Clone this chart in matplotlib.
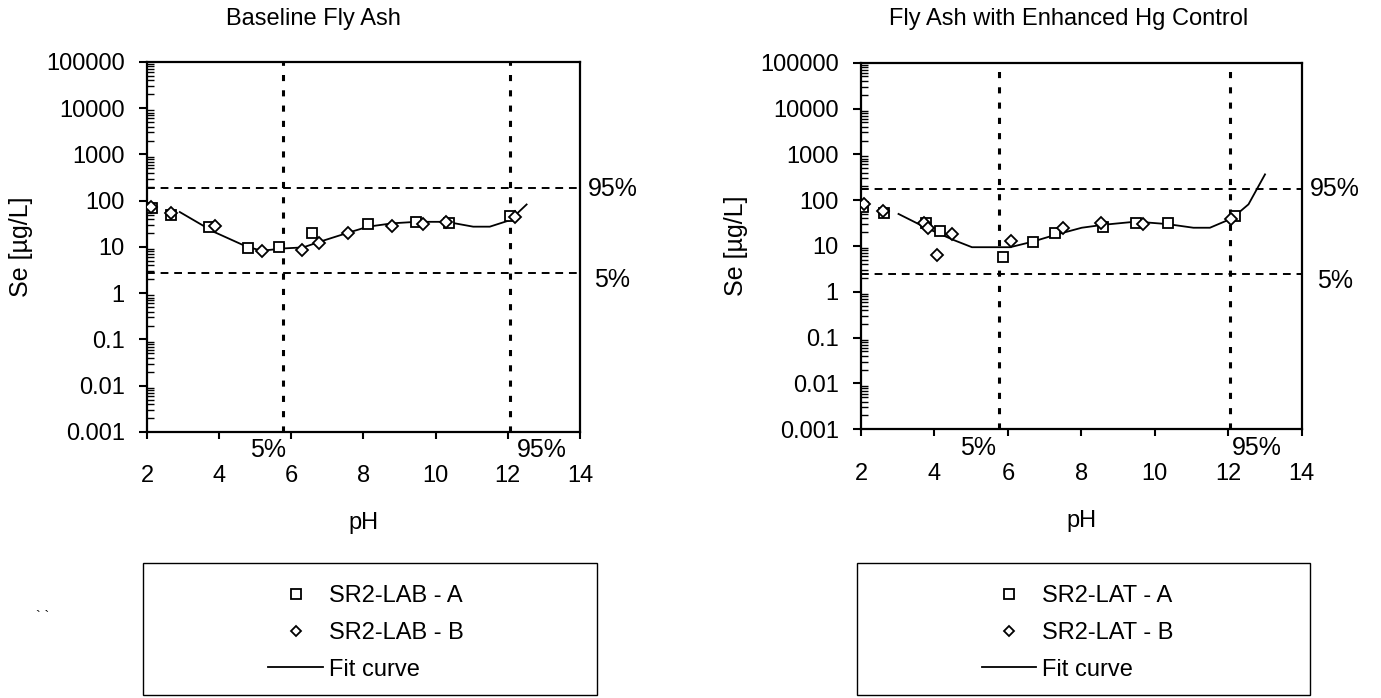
import numpy as np
import matplotlib
matplotlib.use("Agg")
import matplotlib.pyplot as plt
from matplotlib.patches import Rectangle
from matplotlib.lines import Line2D
from matplotlib.ticker import LogLocator, FixedLocator, FixedFormatter

plt.rcParams['font.family'] = ['Liberation Sans', 'DejaVu Sans']

# --- Baseline Fly Ash (SR2-LAB) ---
lab_a_ph = [2.13, 2.66, 3.73, 4.79, 5.66, 6.58, 8.13, 9.45, 10.37, 12.06]
lab_a_se = [69, 49, 26.6, 9.3, 10.2, 20, 31, 34, 32.6, 47]
lab_b_ph = [2.10, 2.68, 3.88, 5.18, 6.31, 6.77, 7.58, 8.80, 9.66, 10.30, 12.19]
lab_b_se = [74, 54, 28.5, 8.0, 8.6, 12, 20.4, 29, 31.7, 35, 44]
lab_fit_ph = [2.91, 3.84, 4.76, 5.18, 5.78, 6.33, 6.79, 7.58, 8.13, 8.80, 9.47, 10.3, 11.04, 11.5, 12.06, 12.52]
lab_fit_se = [57, 21.5, 10.2, 8.3, 9.3, 9.8, 13, 20.4, 27.5, 32.5, 35, 35, 27.5, 27.5, 38, 83]
lab_pct_ph = [5.78, 12.06]      # 5% / 95% pH
lab_pct_se = [2.7, 186]         # 5% / 95% Se

# --- Fly Ash with Enhanced Hg Control (SR2-LAT) ---
lat_a_ph = [2.06, 2.63, 3.77, 4.15, 5.86, 6.67, 7.29, 8.60, 9.49, 10.35, 12.19]
lat_a_se = [72, 53, 31.5, 21, 5.8, 12.4, 19, 25.5, 32, 32, 46]
lat_b_ph = [2.09, 2.61, 3.72, 3.81, 4.08, 4.49, 6.08, 7.49, 8.53, 9.67, 12.08]
lat_b_se = [81, 59, 31.5, 24.5, 6.2, 18, 12.9, 24.5, 31.5, 30, 39]
lat_fit_ph = [3.02, 3.79, 4.52, 5.02, 6.06, 6.67, 7.29, 8.01, 8.60, 9.49, 10.35, 11.05, 11.5, 12.10, 12.55, 13.0]
lat_fit_se = [50, 24.5, 13.5, 9.4, 9.4, 12.4, 17.5, 25, 29, 34, 30, 25, 25, 40, 81, 365]
lat_pct_ph = [5.76, 12.05]
lat_pct_se = [2.5, 175]

xticks = [2, 4, 6, 8, 10, 12, 14]
yticks = [0.001, 0.01, 0.1, 1, 10, 100, 1000, 10000, 100000]
ytick_labels = ['0.001', '0.01', '0.1', '1', '10', '100', '1000', '10000', '100000']

fig = plt.figure(figsize=(13.81, 6.98), dpi=100)

def draw_panel(ax, a_ph, a_se, b_ph, b_se, fit_ph, fit_se, pct_ph, pct_se,
               xlab_pos, title, title_x, leg_labels, leg_box, leg_center):
    ax.set_yscale('log')
    ax.set_xlim(2, 14)
    ax.set_ylim(0.001, 100000)

    # percentile reference lines
    for p in pct_ph:
        ax.axvline(p, color='black', lw=2.2, ls=(0, (2, 3)), zorder=1)
    for s in pct_se:
        ax.axhline(s, color='black', lw=1.4, ls=(0, (4, 3)), zorder=1)

    ax.plot(fit_ph, fit_se, color='black', lw=1.3, zorder=2)
    ax.plot(a_ph, a_se, ls='none', marker='s', ms=7.5, mfc='white', mec='black', mew=1.3,
            zorder=3)
    ax.plot(b_ph, b_se, ls='none', marker='D', ms=6, mfc='white', mec='black', mew=1.3,
            zorder=4)

    ax.xaxis.set_major_locator(FixedLocator(xticks))
    ax.yaxis.set_major_locator(FixedLocator(yticks))
    ax.yaxis.set_major_formatter(FixedFormatter(ytick_labels))
    ax.yaxis.set_minor_locator(LogLocator(base=10, subs=np.arange(2, 10), numticks=20))
    ax.tick_params(axis='x', direction='out', length=5, width=1.5, labelsize=17, pad=19)
    ax.tick_params(axis='y', which='major', direction='out', length=6, width=1.5,
                   labelsize=17, pad=10)
    ax.tick_params(axis='y', which='minor', direction='in', length=5, width=1.0)
    for sp in ax.spines.values():
        sp.set_linewidth(1.6)

    ax.set_xlabel('pH', fontsize=17, labelpad=18)
    ax.set_ylabel('Se [µg/L]', fontsize=18, labelpad=9)

    # percentile labels
    bt = ax.get_xaxis_transform()
    ax.text(xlab_pos[0], -0.05, '5%', transform=bt, ha='center', va='center', fontsize=18)
    ax.text(xlab_pos[1], -0.05, '95%', transform=bt, ha='center', va='center', fontsize=18)
    rt = ax.get_yaxis_transform()
    ax.text(1.075, pct_se[1] * 0.98, '95%', transform=rt, ha='center', va='center', fontsize=18)
    ax.text(1.075, pct_se[0] * 0.7, '5%', transform=rt, ha='center', va='center', fontsize=18)

    fig.text(title_x, 0.973, title, ha='center', va='center', fontsize=17)

    fig.add_artist(Rectangle((leg_box[0], leg_box[1]), leg_box[2], leg_box[3],
                             transform=fig.transFigure, fill=False, ec='black', lw=1.0))
    handles = [Line2D([], [], ls='none', marker='s', ms=6.5, mfc='white', mec='black', mew=1.3),
               Line2D([], [], ls='none', marker='D', ms=5.5, mfc='white', mec='black', mew=1.3),
               Line2D([], [], color='black', lw=1.3)]
    fig.legend(handles, leg_labels, loc='center', bbox_to_anchor=leg_center,
               bbox_transform=fig.transFigure, frameon=False, fontsize=17,
               handlelength=2.3, handletextpad=0.25, labelspacing=0.62)


ax1 = fig.add_axes([0.1064, 0.3811, 0.3136, 0.5301])
ax2 = fig.add_axes([0.6235, 0.385, 0.3191, 0.5252])

draw_panel(ax1, lab_a_ph, lab_a_se, lab_b_ph, lab_b_se, lab_fit_ph, lab_fit_se,
           lab_pct_ph, lab_pct_se, [5.35, 12.94], 'Baseline Fly Ash', 0.2267,
           ['SR2-LAB - A', 'SR2-LAB - B', 'Fit curve'],
           (0.1035, 0.004, 0.3287, 0.189), (0.265, 0.093))
draw_panel(ax2, lat_a_ph, lat_a_se, lat_b_ph, lat_b_se, lat_fit_ph, lat_fit_se,
           lat_pct_ph, lat_pct_se, [5.19, 12.78], 'Fly Ash with Enhanced Hg Control', 0.774,
           ['SR2-LAT - A', 'SR2-LAT - B', 'Fit curve'],
           (0.6206, 0.004, 0.328, 0.189), (0.7805, 0.093))

fig.text(0.026, 0.116, '` `', fontsize=10, va='center')

fig.savefig('out.png', dpi=100)
